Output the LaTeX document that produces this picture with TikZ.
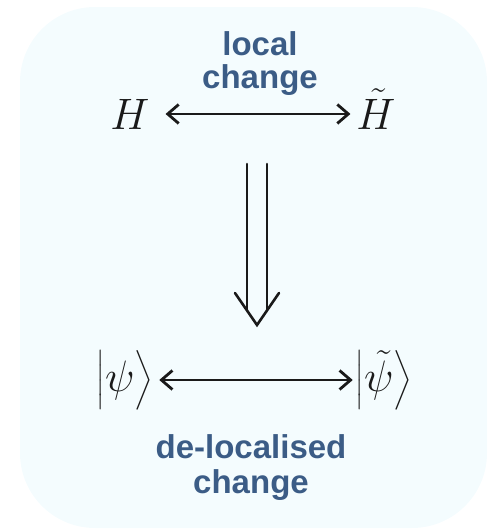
\RequirePackage{fix-cm}
\documentclass[tikz,border=0pt]{standalone}
\usepackage{exscale}
\usepackage{fontspec}
\setsansfont{Liberation Sans}
\usetikzlibrary{arrows.meta}
\definecolor{panel}{HTML}{F4FCFE}
\definecolor{labelblue}{HTML}{3B5C86}
\definecolor{ink}{HTML}{1A1A1A}
\tikzset{
  sym/.style={inner sep=0pt, outer sep=0pt, text=ink, font=\fontsize{44}{44}\selectfont},
  caption/.style={align=center, text=labelblue, font=\sffamily\bfseries\fontsize{33}{35}\selectfont, inner sep=0pt},
  link/.style={draw=ink, line width=2.8pt, {Straight Barb[length=11pt,width=19pt]}-{Straight Barb[length=11pt,width=19pt]}},
  implies/.style={draw=ink, line width=2.6pt, line cap=round, line join=miter},
}
\begin{document}
\begin{tikzpicture}[x=1pt,y=-1pt]
  \useasboundingbox (0,0) rectangle (490,531);
  % panel
  \fill[panel] (20,7) [rounded corners=75pt] rectangle (487,528);

  % top row: Hamiltonians
  \node[sym, anchor=base] (H) at (130,129) {$H$};
  \node[sym, anchor=base] (Ht) at (376,129) {$\tilde{H}$};
  \draw[link, shorten <=16pt, shorten >=6pt] (H.east) -- (H.east -| Ht.west);
  \node[caption, anchor=base, font=\sffamily\bfseries\fontsize{33}{33}\selectfont] (loc) at (260,88) {local\\change};

  % implication arrow
  \coordinate (dtop) at (257,164);
  \coordinate (dtip) at (257,325);
  \draw[implies] ([xshift=-10pt]dtop) -- ([xshift=-10pt,yshift=14.5pt]dtip);
  \draw[implies] ([xshift=10pt]dtop) -- ([xshift=10pt,yshift=14.5pt]dtip);
  \draw[implies] ([xshift=-22pt,yshift=32pt]dtip) -- (dtip) -- ([xshift=22pt,yshift=32pt]dtip);

  % bottom row: ground states
  \node[sym] (psi) at (125,380) {$\bigl|\psi\bigr\rangle$};
  \node[sym] (psit) at (384,380) {$\bigl|\tilde{\psi}\bigr\rangle$};
  \draw[link, shorten <=6pt, shorten >=3pt] (psi.east) -- (psi.east -| psit.west);
  \node[caption, anchor=base] (deloc) at (251,493) {de-localised\\change};
\end{tikzpicture}
\end{document}
